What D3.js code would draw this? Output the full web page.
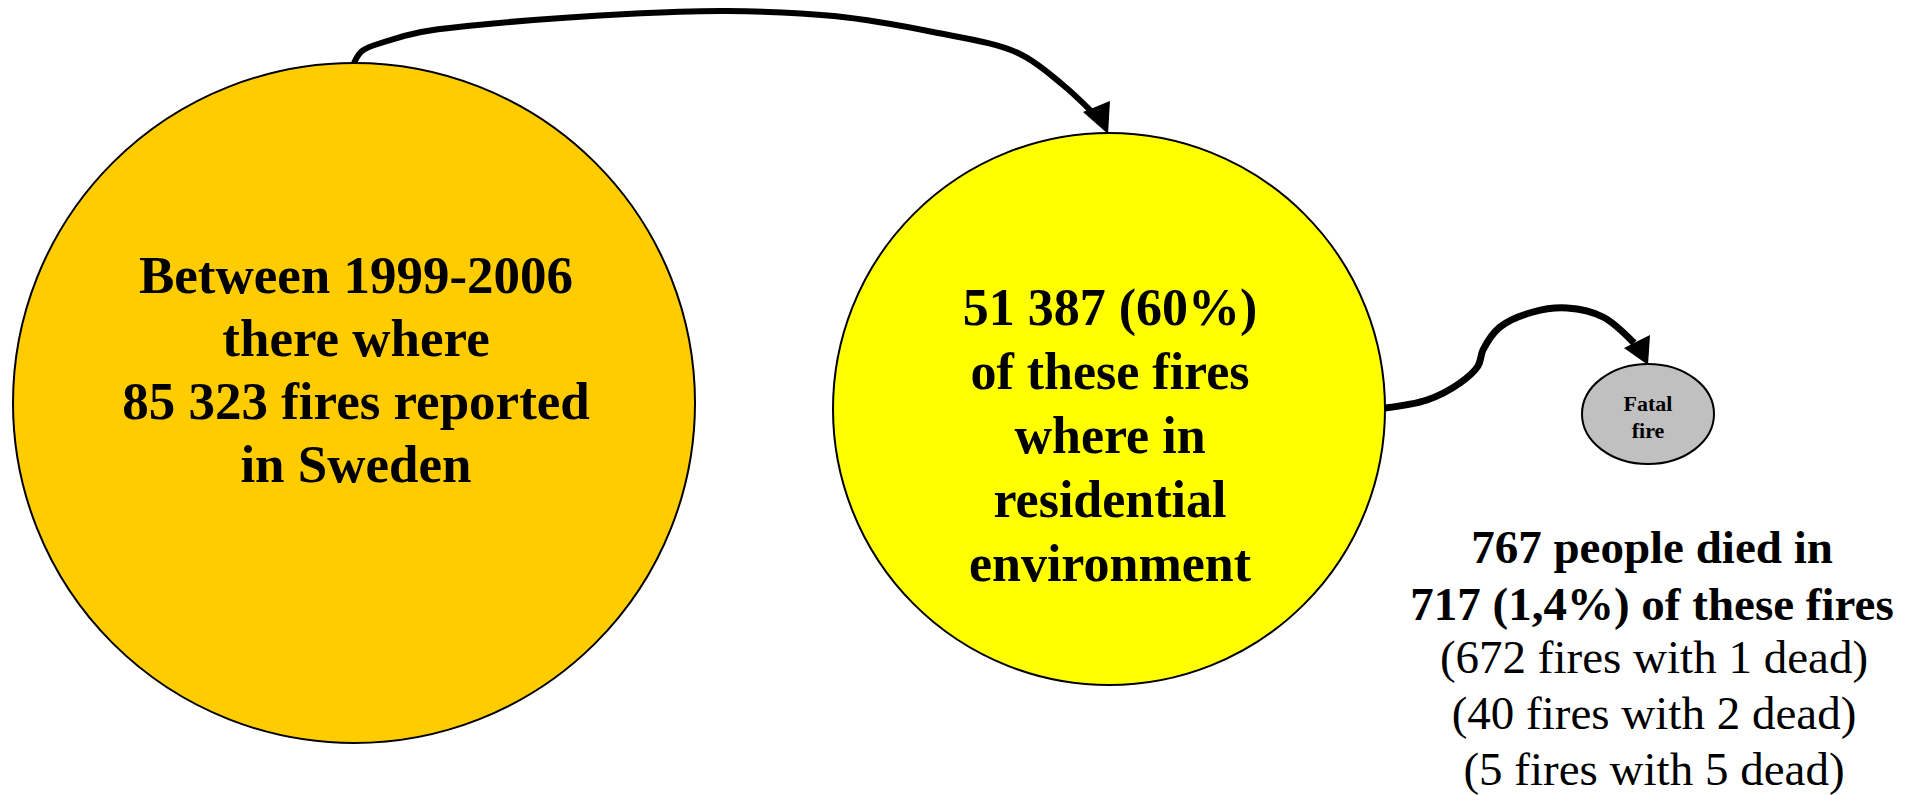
<!DOCTYPE html>
<html>
<head>
<meta charset="utf-8">
<script src="https://cdn.jsdelivr.net/npm/d3@7"></script>
<style>
  html, body { margin: 0; padding: 0; background: #fff; }
  svg { display: block; }
</style>
</head>
<body>
<div id="chart"></div>
<script>
// figures from the diagram
const totalFires = 85323;
const residentialFires = 51387;
const fatalFires = 717;
const deaths = 767;
const firesPerDeathCount = [672, 40, 5];
const deadPerFire = [1, 2, 5];

const bigLines = ["Between 1999-2006", "there where", "85 323 fires reported", "in Sweden"];
const midLines = ["51 387 (60%)", "of these fires", "where in", "residential", "environment"];
const fatalLines = ["Fatal", "fire"];
const deathLines = ["767 people died in", "717 (1,4%) of these fires"];
const breakdownLines = firesPerDeathCount.map((f, i) => "(" + f + " fires with " + deadPerFire[i] + " dead)");

var width = 1914;
var height = 795;
var serif = '"Liberation Serif", "Times New Roman", serif';

var svg = d3.select('#chart')
  .append('svg')
  .attr('width', width)
  .attr('height', height);

// nodes (layout)
var nodes = [
  { cx: 354, cy: 403, rx: 341, ry: 340, fill: '#FFCC00' },
  { cx: 1109, cy: 409, rx: 276, ry: 276, fill: '#FFFF00' },
  { cx: 1648, cy: 414, rx: 66, ry: 50, fill: '#C0C0C0' }
];

svg.selectAll('ellipse')
  .data(nodes)
  .enter()
  .append('ellipse')
  .attr('cx', d => d.cx)
  .attr('cy', d => d.cy)
  .attr('rx', d => d.rx)
  .attr('ry', d => d.ry)
  .attr('fill', d => d.fill)
  .attr('stroke', '#000')
  .attr('stroke-width', 2);

// connecting arrows
var line = d3.line().curve(d3.curveCatmullRom.alpha(0.5));

var arrow1 = [[354, 63], [362, 51], [384, 42], [421, 32], [467, 26], [627, 14], [727, 11], [834, 16], [933, 32], [1018, 53], [1063, 85], [1092, 112]];
var arrow2 = [[1385, 408], [1427, 400], [1460, 383], [1478, 366], [1483, 350], [1500, 327], [1533, 312], [1567, 308], [1603, 317], [1634, 343]];

svg.append('path')
  .attr('d', line(arrow1))
  .attr('fill', 'none')
  .attr('stroke', '#000')
  .attr('stroke-width', 6);

svg.append('path')
  .attr('d', line(arrow2))
  .attr('fill', 'none')
  .attr('stroke', '#000')
  .attr('stroke-width', 7);

svg.append('path')
  .attr('d', 'M1083,112 L1110,101 L1108,134 Z')
  .attr('fill', '#000');

svg.append('path')
  .attr('d', 'M1624,348 L1650,335 L1648,365 Z')
  .attr('fill', '#000');

function block(lines, x, y0, step, size, weight) {
  svg.append('g')
    .selectAll('text')
    .data(lines)
    .enter()
    .append('text')
    .attr('x', x)
    .attr('y', (d, i) => y0 + i * step)
    .attr('text-anchor', 'middle')
    .attr('font-family', serif)
    .attr('font-size', size)
    .attr('font-weight', weight)
    .attr('fill', '#000')
    .text(d => d);
}

block(bigLines, 356, 293, 63, 53, 'bold');
block(midLines, 1110, 325, 64, 52, 'bold');
block(fatalLines, 1648, 411, 27, 22, 'bold');
block(deathLines, 1652, 563, 57, 47, 'bold');
block(breakdownLines, 1654, 673, 56, 47, 'normal');
</script>
</body>
</html>
